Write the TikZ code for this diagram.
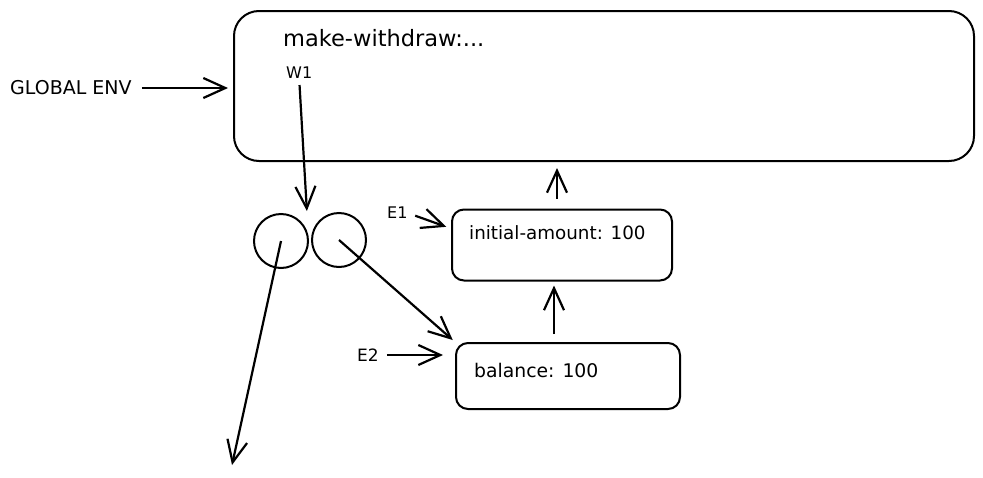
\documentclass[tikz,border=0pt]{standalone}
\usepackage{fontspec}
\setmainfont{DejaVu Sans}
\usetikzlibrary{arrows.meta}
\tikzset{
  envbox/.style = {draw, line width=2pt, rounded corners=#1},
  bubble/.style = {draw, circle, line width=2pt, minimum size=54pt, inner sep=0pt},
  txt/.style = {anchor=west, inner sep=0pt, font=\fontsize{18.3}{22}\selectfont},
  lbl/.style = {anchor=west, inner sep=0pt, font=\fontsize{16}{19}\selectfont},
  arr/.style = {->, line width=2.2pt},
  >={Straight Barb[length=22pt,width=20pt]}
}
\begin{document}
\begin{tikzpicture}[x=1pt, y=-1pt]
    \useasboundingbox (0,0) rectangle (983,477);
    \node [envbox=25pt, minimum width=740pt, minimum height=150pt] (global) at (604,86) {};
    \node [txt, font=\fontsize{22.5}{26}\selectfont] (mw) at (283,38) {make-withdraw:...};
    \node [lbl] (w1) at (286,73) {W1};
    \node [lbl, font=\fontsize{19}{22}\selectfont] (genv) at (10,88) {GLOBAL ENV};
    \draw [arr, shorten <=10pt, shorten >=5pt] (genv.east) -- (genv.east -| global.west);
    \node [bubble] (c1) at (281,241) {};
    \node [bubble] (c2) at (339,240) {};
    \draw [arr, shorten <=6pt, shorten >=2pt] (w1.south) -- ([xshift=26pt]c1.north);
    \coordinate (down) at (232,465);
    \draw [arr] (c1.center) -- (down);
    \node [envbox=12pt, minimum width=220pt, minimum height=71pt] (e1) at (562,245) {};
    \node [envbox=12pt, minimum width=224pt, minimum height=66pt] (e2) at (568,376) {};
    \node [txt] (amt) at (469,233) {initial-amount: 100};
    \node [txt, font=\fontsize{18.8}{22}\selectfont] (bal) at (474,370) {balance: 100};
    \draw [arr, shorten >=3pt] (c2.center) -- (e2.north west);
    \node [lbl] (e1lbl) at (387,213) {E1};
    \node [lbl, font=\fontsize{17}{20}\selectfont] (e2lbl) at (357,355) {E2};
    \draw [arr, shorten <=8pt, shorten >=5pt] (e1lbl.east) -- ([yshift=-20pt]e1.north west);
    \draw [arr, shorten <=8pt, shorten >=12pt] (e2lbl.east) -- (e2lbl.east -| e2.west);
    \draw [arr, shorten <=8pt, shorten >=4pt] ([xshift=-14pt]e2.north) -- ([xshift=-8pt]e1.south);
    \draw [arr, shorten <=10pt, shorten >=6pt] ([xshift=-5pt]e1.north) -- ([xshift=-5pt]e1.north |- global.south);
\end{tikzpicture}
\end{document}
